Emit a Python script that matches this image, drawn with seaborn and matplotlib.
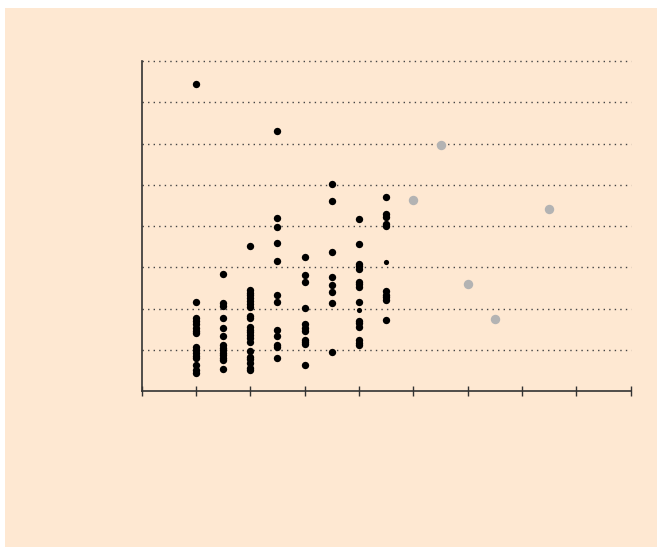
import numpy as np
import pandas as pd
import matplotlib.pyplot as plt
import matplotlib.patches as mpatches
import seaborn as sns

# data

black_x = ([1.0] * 16 + [1.5] * 14 + [2.0] * 22 + [2.5] * 12 + [3.0] * 11
           + [3.5] * 8 + [4.0] * 15 + [4.5] * 10)
black_y = [7.44, 2.16, 1.77, 1.70, 1.62, 1.53, 1.45, 1.40, 1.07, 0.99, 0.92, 0.85, 0.80, 0.63, 0.51, 0.44,
           2.85, 2.13, 2.06, 1.76, 1.53, 1.34, 1.12, 1.05, 0.99, 0.93, 0.87, 0.81, 0.75, 0.53,
           3.52, 2.45, 2.38, 2.32, 2.25, 2.18, 2.12, 2.04, 1.82, 1.76, 1.56, 1.49, 1.43, 1.36, 1.28, 1.20,
           0.97, 0.83, 0.77, 0.69, 0.57, 0.50,
           6.30, 4.19, 3.98, 3.58, 3.16, 2.34, 2.15, 1.48, 1.33, 1.12, 1.07, 0.80,
           3.24, 2.81, 2.65, 2.02, 1.62, 1.53, 1.45, 1.25, 1.19, 1.14, 0.63,
           5.02, 4.61, 3.36, 2.77, 2.57, 2.41, 2.13, 0.95,
           4.16, 3.56, 3.08, 3.03, 2.97, 2.65, 2.59, 2.53, 2.16, 1.70, 1.64, 1.56, 1.24, 1.17, 1.11,
           4.71, 4.29, 4.22, 4.06, 4.00, 2.42, 2.34, 2.27, 2.21, 1.72]
small_x = [4.0, 4.5]
small_y = [1.96, 3.13]
grey_x = [5.0, 5.5, 6.0, 6.5, 7.5]
grey_y = [4.62, 5.97, 2.60, 1.75, 4.42]

df_black = pd.DataFrame({'x': black_x, 'y': black_y})
df_small = pd.DataFrame({'x': small_x, 'y': small_y})
df_grey = pd.DataFrame({'x': grey_x, 'y': grey_y})

bg = '#FEE8D2'

sns.set_style('white')
fig = plt.figure(figsize=(6.57, 5.47), dpi=100)
fig.patch.set_facecolor('white')
fig.patches.append(mpatches.Rectangle((5 / 657, 0), 1, 539 / 547, transform=fig.transFigure,
                                      facecolor=bg, edgecolor='none', zorder=-5))
ax = fig.add_axes([0.2155, 0.285, 0.7445, 0.6035])
ax.set_facecolor(bg)

sns.scatterplot(data=df_black, x='x', y='y', color='black', s=28, linewidth=0, ax=ax, zorder=3)
sns.scatterplot(data=df_small, x='x', y='y', color='black', s=14, linewidth=0, ax=ax, zorder=3)
sns.scatterplot(data=df_grey, x='x', y='y', color='#B3B3B3', s=46, linewidth=0, ax=ax, zorder=3)

ax.set_xlim(0, 9)
ax.set_ylim(0, 8)
ax.set_xticks(range(0, 10))
ax.set_yticks(range(1, 9))
ax.set_xticklabels([])
ax.set_yticklabels([])
ax.set_xlabel('')
ax.set_ylabel('')
ax.tick_params(axis='x', direction='inout', length=7, width=1, color='#333333', bottom=True)
ax.tick_params(axis='y', length=0)
ax.grid(axis='y', color='#444444', linestyle=(0, (1, 3)), linewidth=1.0)
ax.grid(axis='x', visible=False)
for gl in ax.get_ygridlines():
    gl.set_clip_on(False)
for side in ['top', 'right']:
    ax.spines[side].set_visible(False)
for side in ['left', 'bottom']:
    ax.spines[side].set_color('#333333')
    ax.spines[side].set_linewidth(1.2)

plt.savefig('out.png', dpi=100, facecolor=fig.get_facecolor())
